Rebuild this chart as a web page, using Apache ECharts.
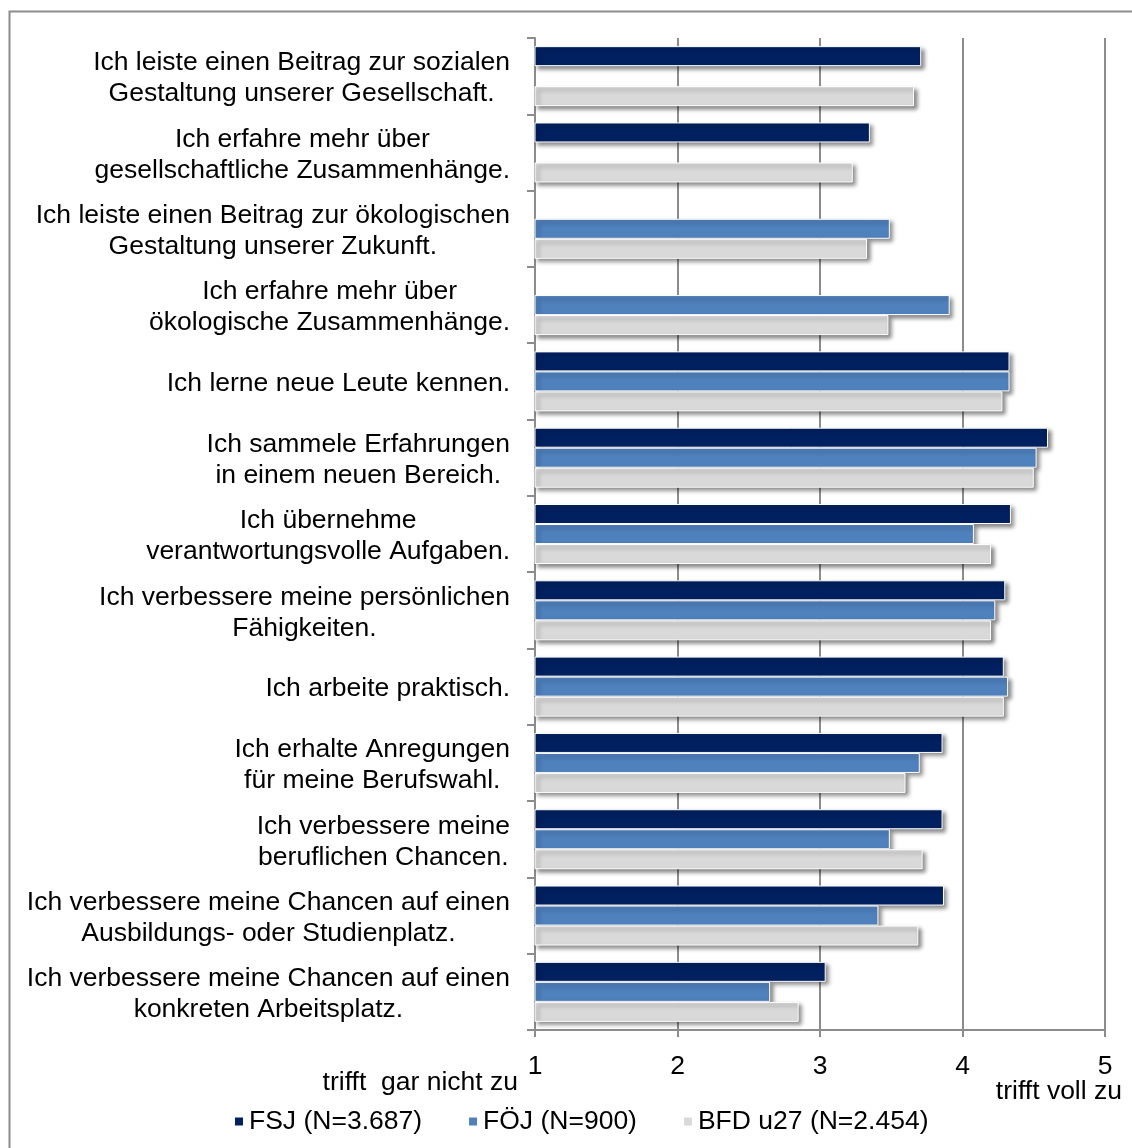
<!DOCTYPE html>
<html><head><meta charset="utf-8">
<script src="https://cdn.jsdelivr.net/npm/echarts@6/dist/echarts.min.js"></script>
<style>html,body{margin:0;padding:0;background:#fff;}#c{width:1132px;height:1148px;}</style>
</head><body><div id="c"></div>
<script>
const categories = [
  "Ich leiste einen Beitrag zur sozialen\nGestaltung unserer Gesellschaft.",
  "Ich erfahre mehr über\ngesellschaftliche Zusammenhänge.",
  "Ich leiste einen Beitrag zur ökologischen\nGestaltung unserer Zukunft.",
  "Ich erfahre mehr über\nökologische Zusammenhänge.",
  "Ich lerne neue Leute kennen.",
  "Ich sammele Erfahrungen\nin einem neuen Bereich.",
  "Ich übernehme\nverantwortungsvolle Aufgaben.",
  "Ich verbessere meine persönlichen\nFähigkeiten.",
  "Ich arbeite praktisch.",
  "Ich erhalte Anregungen\nfür meine Berufswahl.",
  "Ich verbessere meine\nberuflichen Chancen.",
  "Ich verbessere meine Chancen auf einen\nAusbildungs- oder Studienplatz.",
  "Ich verbessere meine Chancen auf einen\nkonkreten Arbeitsplatz."
];
const seriesNames = ["FSJ (N=3.687)", "FÖJ (N=900)", "BFD u27 (N=2.454)"];
const fsj = [3.71, 3.35, '-', '-', 4.33, 4.60, 4.34, 4.30, 4.29, 3.86, 3.86, 3.87, 3.04];
const foej = ['-', '-', 3.49, 3.91, 4.33, 4.52, 4.08, 4.23, 4.32, 3.70, 3.49, 3.41, 2.65];
const bfd = [3.66, 3.23, 3.33, 3.48, 4.28, 4.50, 4.20, 4.20, 4.29, 3.60, 3.72, 3.69, 2.85];
const xTicks = [1, 2, 3, 4, 5];
const xLow = "trifft  gar nicht zu";
const xHigh = "trifft voll zu";

const FONT = '"Liberation Sans", Arial, sans-serif';
const FS = 26.5;
const colors = ['#002060', '#4f81bd', '#d9d9d9'];
const chart = echarts.init(document.getElementById('c'));
const barStyle = (c) => ({
  color: c, borderColor: '#ffffff', borderWidth: 1,
  shadowColor: 'rgba(0,0,0,0.45)', shadowBlur: 4, shadowOffsetX: 3, shadowOffsetY: 3
});
const mk = (name, data, i) => ({
  name, type: 'bar', data, barWidth: 20, barGap: '0%',
  itemStyle: barStyle(colors[i])
});
chart.setOption({
  animation: false,
  backgroundColor: '#fff',
  textStyle: { fontFamily: FONT },
  grid: { left: 535, right: 27, top: 38, bottom: 118, containLabel: false },
  xAxis: {
    type: 'value', min: xTicks[0], max: xTicks[xTicks.length - 1], interval: 1,
    axisLine: { show: true, lineStyle: { color: '#8c8c8c', width: 2 } },
    axisTick: { show: true, length: 7, lineStyle: { color: '#8c8c8c', width: 2 } },
    splitLine: { show: true, lineStyle: { color: '#8c8c8c', width: 2 } },
    axisLabel: { fontSize: FS, color: '#000', margin: 23, fontFamily: FONT,
      formatter: v => xTicks.indexOf(v) >= 0 ? String(v) : '' }
  },
  yAxis: {
    type: 'category', data: categories, inverse: true,
    axisLine: { show: true, lineStyle: { color: '#8c8c8c', width: 2 } },
    axisTick: { show: true, length: 8, lineStyle: { color: '#8c8c8c', width: 2 } },
    axisLabel: {
      fontSize: FS, color: '#000', margin: 25, align: 'right', fontFamily: FONT,
      lineHeight: 31, padding: [5, 0, 0, 0],
      formatter: v => v.split('\n').map(l => '{c|' + l + '}').join('\n'),
      rich: { c: { align: 'center', fontSize: FS, lineHeight: 31, fontFamily: FONT, color: '#000' } }
    }
  },
  legend: {
    bottom: 8, left: 228, itemWidth: 10, itemHeight: 10, itemGap: 45, icon: 'rect',
    textStyle: { fontSize: FS, color: '#000', fontFamily: FONT, padding: [0, 0, 0, 0] },
    data: seriesNames
  },
  series: [mk(seriesNames[0], fsj, 0), mk(seriesNames[1], foej, 1), mk(seriesNames[2], bfd, 2)],
  graphic: [
    { type: 'rect', left: 7, top: 9, shape: { width: 1140, height: 1150 }, silent: true, z: -10,
      style: { fill: 'none', stroke: '#8c8c8c', lineWidth: 2 } },
    { type: 'text', right: 614, top: 1069, style: { text: xLow, font: FS + 'px ' + FONT, fill: '#000' } },
    { type: 'text', right: 10, top: 1078, style: { text: xHigh, font: FS + 'px ' + FONT, fill: '#000' } }
  ]
});
</script></body></html>
